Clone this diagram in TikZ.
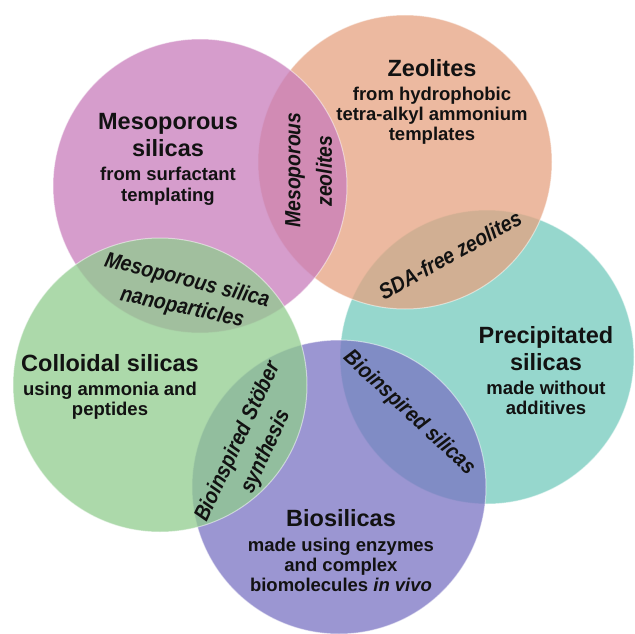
\documentclass[tikz,border=0pt]{standalone}
\usepackage{fontspec}
\setmainfont{Liberation Sans}
\newfontfamily\narrowfont[FakeStretch=0.88]{Liberation Sans}
\definecolor{cTeal}{RGB}{115,202,188}
\definecolor{cOrange}{RGB}{230,162,128}
\definecolor{cMagenta}{RGB}{200,124,187}
\definecolor{cBlue}{RGB}{122,115,195}
\definecolor{cGreen}{RGB}{144,204,142}
\definecolor{ink}{RGB}{18,18,18}
\begin{document}
\begin{tikzpicture}[x=1pt,y=-1pt,
  blob/.style={circle, minimum size=294pt, inner sep=0pt, fill opacity=0.75, draw=white, draw opacity=0.5, line width=1pt},
  head/.style={font=\fontsize{23.5}{28}\selectfont\bfseries, anchor=base, text=ink, inner sep=0pt},
  sub/.style={font=\fontsize{18.5}{21}\selectfont\bfseries, anchor=base, text=ink, inner sep=0pt},
  lens/.style={font=\narrowfont\fontsize{22}{26}\selectfont\bfseries\itshape, anchor=center, text=ink, inner sep=0pt}]
\useasboundingbox (0,0) rectangle (635,634);
% circles (bottom to top)
\node[blob, fill=cTeal]    (prec)  at (487,357) {};
\node[blob, fill=cOrange]  (zeo)   at (405,162) {};
\node[blob, fill=cMagenta] (meso)  at (200,186) {};
\node[blob, fill=cBlue]    (bio)   at (339,487) {};
\node[blob, fill=cGreen]   (coll)  at (160,385) {};
% main labels
\node[head] (m1) at (168,129.3) {Mesoporous};
\node[head] (m2) at (168,156.7) {silicas};
\node[sub]  (m3) at (168,180) {from surfactant};
\node[sub]  (m4) at (168,201) {templating};

\node[head] (z1) at (432,76.7) {Zeolites};
\node[sub]  (z2) at (432,100) {from hydrophobic};
\node[sub]  (z3) at (432,120.7) {tetra-alkyl ammonium};
\node[sub]  (z4) at (432,140.5) {templates};

\node[head] (p1) at (546,343) {Precipitated};
\node[head] (p2) at (546,370.7) {silicas};
\node[sub]  (p3) at (546,394) {made without};
\node[sub]  (p4) at (546,414) {additives};

\node[head] (c1) at (110,371) {Colloidal silicas};
\node[sub]  (c2) at (110,395.7) {using ammonia and};
\node[sub]  (c3) at (110,415) {peptides};

\node[head] (b1) at (341,526.7) {Biosilicas};
\node[sub]  (b2) at (341,551) {made using enzymes};
\node[sub]  (b3) at (341,571.7) {and complex};
\node[sub]  (b4) at (341,591.7) {biomolecules \textit{in vivo}};
% overlap labels
\node[lens, rotate=90]  (mz1) at (295,170) {Mesoporous};
\node[lens, rotate=90]  (mz2) at (324,171) {zeolites};
\node[lens, rotate=29]  (sda) at (450,255) {SDA-free zeolites};
\node[lens, rotate=-43] (bis) at (409,413) {Bioinspired silicas};
\node[lens, rotate=65]  (st1) at (238,442) {Bioinspired Stöber};
\node[lens, rotate=65]  (st2) at (266,452) {synthesis};
\node[lens, rotate=-14] (np1) at (187,281) {Mesoporous silica};
\node[lens, rotate=-12] (np2) at (182,308) {nanoparticles};
\end{tikzpicture}
\end{document}
